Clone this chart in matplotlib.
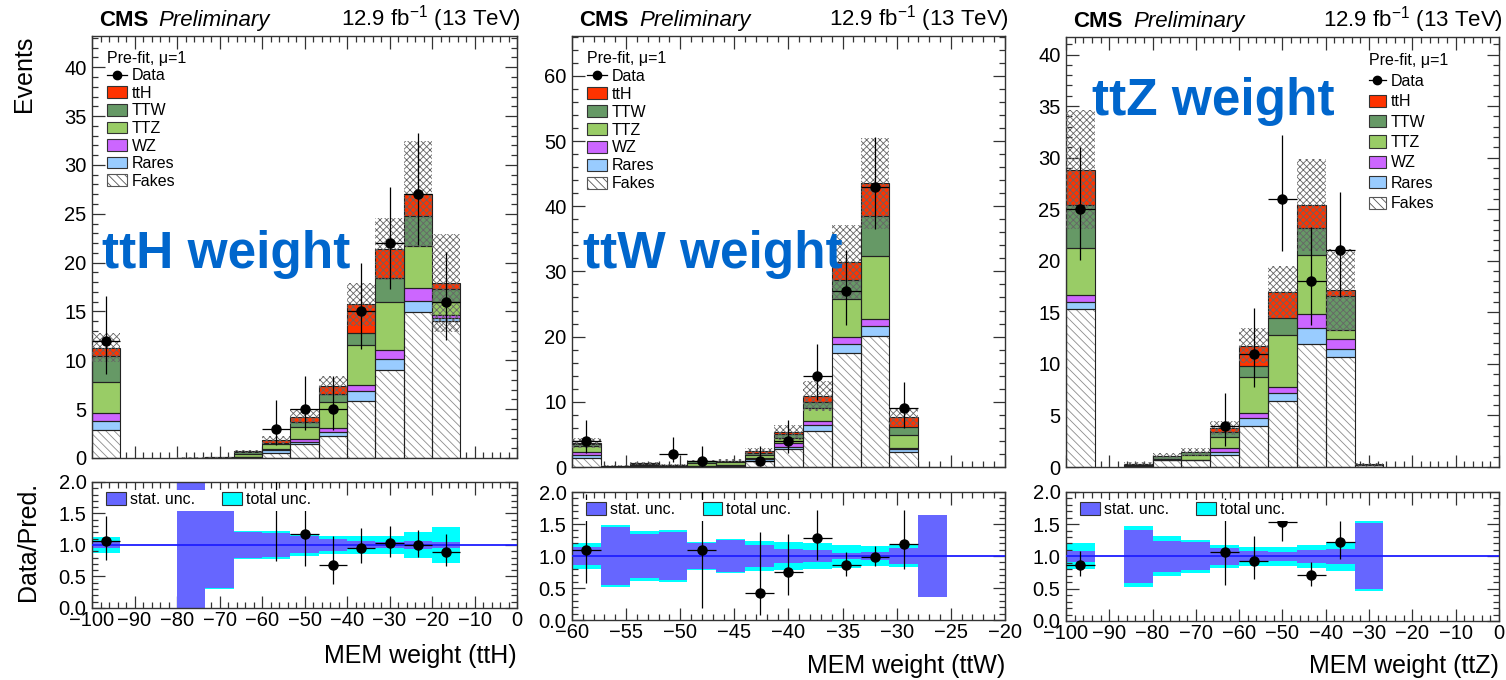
import math
import numpy as np
import matplotlib
matplotlib.use("Agg")
import matplotlib.pyplot as plt
from matplotlib.patches import Patch, Rectangle
from matplotlib.lines import Line2D
from matplotlib.ticker import MultipleLocator, FormatStrFormatter

plt.rcParams['font.family'] = ['Liberation Sans', 'DejaVu Sans']
plt.rcParams['mathtext.fontset'] = 'custom'
plt.rcParams['mathtext.rm'] = 'Liberation Sans'
plt.rcParams['mathtext.it'] = 'Liberation Sans:italic'
plt.rcParams['hatch.linewidth'] = 0.6

# ---- ttH weight (15 bins, -100..0) ----
ttHw_range = (-100, 0)
ttHw_data = [12, 0, 0, 0, 0, 0, 3, 5, 5, 15, 22, 27, 16, 0, 0]
ttHw_fakes = [2.9, 0, 0, 0.01, 0.02, 0.05, 0.55, 1.43, 2.28, 5.86, 9.04, 14.93, 13.98, 0, 0]
ttHw_rares = [0.85, 0, 0, 0, 0, 0.03, 0.27, 0.25, 0.35, 1.03, 1.12, 1.16, 0.34, 0, 0]
ttHw_wz = [0.85, 0, 0, 0, 0, 0.02, 0.10, 0.25, 0.42, 0.54, 0.85, 1.30, 0.34, 0, 0]
ttHw_ttz = [3.2, 0, 0, 0.02, 0.03, 0.35, 0.48, 1.25, 2.65, 4.09, 4.95, 4.33, 1.26, 0, 0]
ttHw_ttw = [2.6, 0, 0, 0, 0.01, 0.20, 0.17, 0.50, 0.80, 1.27, 2.45, 3.00, 1.37, 0, 0]
ttHw_tth = [0.9, 0, 0, 0, 0, 0.05, 0.27, 0.55, 0.88, 2.96, 2.97, 2.28, 0.61, 0, 0]
ttHw_stat = [0.05, 0, 0, 1.3, 0.69, 0.20, 0.185, 0.135, 0.09, 0.07, 0.045, 0.06, 0.05, 0, 0]
ttHw_tot = [0.13, 0, 0, 1.25, 0.70, 0.225, 0.22, 0.18, 0.14, 0.14, 0.15, 0.20, 0.28, 0, 0]

# ---- ttW weight (15 bins, -60..-20) ----
ttWw_range = (-60, -20)
ttWw_data = [4, 0, 0, 2, 1, 0, 1, 4, 14, 27, 43, 9, 0, 0, 0]
ttWw_fakes = [1.45, 0.05, 0.20, 0.10, 0.10, 0.20, 0.92, 2.76, 5.52, 17.43, 20.1, 2.30, 0.02, 0, 0]
ttWw_rares = [0.40, 0.02, 0.05, 0.05, 0.05, 0.05, 0.26, 0.36, 0.92, 1.38, 1.50, 0.40, 0, 0, 0]
ttWw_wz = [0.50, 0.01, 0.05, 0.02, 0.05, 0.05, 0.25, 0.51, 0.66, 1.08, 1.05, 0.15, 0, 0, 0]
ttWw_ttz = [0.80, 0.08, 0.15, 0.10, 0.45, 0.45, 0.41, 0.87, 1.90, 5.88, 9.70, 2.05, 0, 0, 0]
ttWw_ttw = [0.35, 0.04, 0.12, 0.06, 0.20, 0.15, 0.26, 0.50, 1.00, 2.91, 6.14, 1.30, 0, 0, 0]
ttWw_tth = [0.15, 0, 0.03, 0.02, 0.06, 0.10, 0.30, 0.30, 0.94, 2.81, 5.00, 1.40, 0, 0, 0]
ttWw_stat = [0.135, 0.46, 0.35, 0.37, 0.20, 0.25, 0.165, 0.115, 0.10, 0.05, 0.06, 0.13, 0.635, 0, 0]
ttWw_tot = [0.21, 0.485, 0.39, 0.40, 0.22, 0.27, 0.23, 0.22, 0.21, 0.18, 0.16, 0.17, 0.60, 0, 0]

# ---- ttZ weight (15 bins, -100..0) ----
ttZw_range = (-100, 0)
ttZw_data = [25, 0, 0, 0, 0, 4, 11, 26, 18, 21, 0, 0, 0, 0, 0]
ttZw_fakes = [15.3, 0, 0.10, 0.65, 0.65, 1.17, 3.98, 6.41, 11.91, 10.71, 0.15, 0, 0, 0, 0]
ttZw_rares = [0.75, 0, 0.03, 0.02, 0.03, 0.32, 0.74, 0.74, 1.55, 0.71, 0.02, 0, 0, 0, 0]
ttZw_wz = [0.65, 0, 0.02, 0.02, 0.02, 0.39, 0.55, 0.65, 1.39, 0.97, 0.01, 0, 0, 0, 0]
ttZw_ttz = [4.53, 0, 0.10, 0.05, 0.50, 1.07, 3.50, 5.02, 5.73, 0.91, 0.04, 0, 0, 0, 0]
ttZw_ttw = [4.21, 0, 0.05, 0.33, 0.25, 0.42, 1.03, 1.61, 2.59, 3.24, 0.03, 0, 0, 0, 0]
ttZw_tth = [3.39, 0, 0, 0, 0, 0.38, 1.98, 2.53, 2.27, 0.64, 0, 0, 0, 0, 0]
ttZw_stat = [0.08, 0, 0.41, 0.245, 0.215, 0.13, 0.085, 0.075, 0.095, 0.12, 0.51, 0, 0, 0, 0]
ttZw_tot = [0.20, 0, 0.47, 0.31, 0.25, 0.18, 0.145, 0.15, 0.175, 0.23, 0.54, 0, 0, 0, 0]

proc_labels = ['ttH', 'TTW', 'TTZ', 'WZ', 'Rares', 'Fakes']
proc_colors = ['#ff3300', '#669966', '#99cc66', '#cc66ff', '#99ccff', 'white']

HATCH_FAKES = '\\\\\\\\'
EDGE = '#222222'


def pois_cdf(n, mu):
    return sum(math.exp(k * math.log(mu) - mu - math.lgamma(k + 1)) for k in range(n + 1))


def garwood(n, a=0.158655):
    lo_, hi_ = float(n), n + 10.0 * math.sqrt(n + 1) + 10
    for _ in range(60):
        mid = 0.5 * (lo_ + hi_)
        if pois_cdf(n, mid) > a:
            lo_ = mid
        else:
            hi_ = mid
    up = 0.5 * (lo_ + hi_)
    if n == 0:
        return 0.0, up
    lo_, hi_ = 1e-9, float(n)
    for _ in range(60):
        mid = 0.5 * (lo_ + hi_)
        if 1 - pois_cdf(n - 1, mid) < a:
            lo_ = mid
        else:
            hi_ = mid
    return 0.5 * (lo_ + hi_), up


def draw_panel(ax, axr, xr, data, comps, stat, tot, ymax, xmaj, xmin, ymaj, ymin):
    data = np.asarray(data, float)
    n = len(data)
    edges = np.linspace(xr[0], xr[1], n + 1)
    left = edges[:-1]
    w = edges[1] - edges[0]
    cen = left + w / 2

    # stack: fakes, rares, wz, ttz, ttw, tth (bottom -> top)
    bottom = np.zeros(n)
    for vals, col in zip(comps, proc_colors[::-1]):
        vals = np.asarray(vals, float)
        m = vals > 0
        if col == 'white':
            ax.bar(left[m], vals[m], w, bottom=bottom[m], align='edge', facecolor='white',
                   edgecolor='#8c8c8c', hatch=HATCH_FAKES, linewidth=0, zorder=2)
        else:
            ax.bar(left[m], vals[m], w, bottom=bottom[m], align='edge', facecolor=col,
                   linewidth=0, zorder=2)
        ax.bar(left[m], vals[m], w, bottom=bottom[m], align='edge', fill=False,
               edgecolor=EDGE, linewidth=0.8, zorder=2.5)
        bottom += vals
    pred = bottom

    tot = np.asarray(tot, float)
    stat = np.asarray(stat, float)
    m = pred > 0
    dn = pred * (1 - tot)
    up = pred * (1 + tot)
    ax.bar(left[m], (up - dn)[m], w, bottom=dn[m], align='edge', fill=False,
           hatch='xxxxx', edgecolor='#666666', linewidth=0, zorder=3)

    # data points
    md = data > 0
    gw = np.array([garwood(int(v)) for v in data[md]])
    ax.errorbar(cen[md], data[md], yerr=[data[md] - gw[:, 0], gw[:, 1] - data[md]],
                xerr=w / 2, fmt='o', color='black', ms=6.5, elinewidth=0.9,
                capsize=0, zorder=5)

    ax.set_xlim(*xr)
    ax.set_ylim(0, ymax)
    ax.xaxis.set_major_locator(MultipleLocator(xmaj))
    ax.xaxis.set_minor_locator(MultipleLocator(xmin))
    ax.yaxis.set_major_locator(MultipleLocator(ymaj))
    ax.yaxis.set_minor_locator(MultipleLocator(ymin))
    ax.tick_params(axis='x', labelbottom=False)

    # ratio panel
    mb = pred > 0
    axr.bar(left[mb], 2 * tot[mb], w, bottom=1 - tot[mb], align='edge',
            color='#00ffff', linewidth=0, zorder=1)
    axr.bar(left[mb], 2 * stat[mb], w, bottom=1 - stat[mb], align='edge',
            color='#6666ff', linewidth=0, zorder=2)
    axr.axhline(1.0, color='#1e1eff', lw=1.3, zorder=3)
    mr = md & (pred > 0)
    gw = np.array([garwood(int(v)) for v in data[mr]])
    r = data[mr] / pred[mr]
    axr.errorbar(cen[mr], r, yerr=[r - gw[:, 0] / pred[mr], gw[:, 1] / pred[mr] - r],
                 xerr=w / 2, fmt='o', color='black', ms=6.5, elinewidth=0.9,
                 capsize=0, zorder=4)
    axr.set_xlim(*xr)
    axr.set_ylim(0, 2)
    axr.xaxis.set_major_locator(MultipleLocator(xmaj))
    axr.xaxis.set_minor_locator(MultipleLocator(xmin))
    axr.yaxis.set_major_locator(MultipleLocator(0.5))
    axr.yaxis.set_minor_locator(MultipleLocator(0.1))
    axr.yaxis.set_major_formatter(FormatStrFormatter('%.1f'))

    # white legend box in ratio panel
    axr.add_patch(Rectangle((0.02, 0.772), 0.50, 0.163, transform=axr.transAxes,
                            facecolor='white', edgecolor='none', zorder=6))
    rh = [Patch(facecolor='#6666ff', edgecolor='#333333', lw=0.8),
          Patch(facecolor='#00ffff', edgecolor='#333333', lw=0.8)]
    lg = axr.legend(rh, ['stat. unc.', 'total unc.'], ncol=2, loc='center left',
                    bbox_to_anchor=(0.033, 0.862), frameon=False, fontsize=11.5,
                    handlelength=1.25, handleheight=0.9, handletextpad=0.25,
                    columnspacing=1.7, borderpad=0, borderaxespad=0)
    lg.set_zorder(7)

    for a in (ax, axr):
        a.tick_params(which='both', direction='in', top=True, right=True,
                      labelsize=14.5, color='#333333')
        a.tick_params(which='major', length=9, width=0.9)
        a.tick_params(which='minor', length=4.5, width=0.9)
        for s in a.spines.values():
            s.set_linewidth(1.0)
            s.set_color('#333333')
    ax.tick_params(axis='y', pad=4)
    axr.tick_params(axis='x', pad=2)
    axr.tick_params(axis='y', pad=4)


def main_legend(ax, anchor, spacing, hl, hh):
    handles = [Line2D([], [], color='black', marker='o', ms=6, lw=0.9)]
    for lab, col in zip(proc_labels, proc_colors):
        if col == 'white':
            handles.append(Patch(facecolor='white', edgecolor='#555555', hatch=HATCH_FAKES, lw=0.8))
        else:
            handles.append(Patch(facecolor=col, edgecolor='#333333', lw=0.8))
    lg = ax.legend(handles, ['Data'] + proc_labels, loc='upper left', bbox_to_anchor=anchor,
                   frameon=False, fontsize=11.5, title='Pre-fit, \u03bc=1',
                   title_fontsize=11.5, alignment='left', handlelength=hl,
                   handleheight=hh, handletextpad=0.3, labelspacing=spacing,
                   borderpad=0, borderaxespad=0)
    lg.set_zorder(8)


def header(ax):
    ax.text(0.016, 1.024, 'CMS', transform=ax.transAxes, fontsize=16, fontweight='bold',
            va='baseline', ha='left')
    ax.text(0.155, 1.024, 'Preliminary', transform=ax.transAxes, fontsize=16,
            style='italic', va='baseline', ha='left')
    ax.text(1.01, 1.024, '12.9 fb$^{-1}$ (13 TeV)', transform=ax.transAxes, fontsize=16,
            va='baseline', ha='right')


fig = plt.figure(figsize=(15.06, 6.8), dpi=100)

ax1 = fig.add_axes([0.0611, 0.3265, 0.2822, 0.6206])
ax1r = fig.add_axes([0.0611, 0.1059, 0.2822, 0.1853])
ax2 = fig.add_axes([0.3798, 0.3132, 0.2875, 0.6338])
ax2r = fig.add_axes([0.3798, 0.0882, 0.2875, 0.1882])
ax3 = fig.add_axes([0.7078, 0.3132, 0.2875, 0.6324])
ax3r = fig.add_axes([0.7078, 0.0868, 0.2875, 0.1900])

draw_panel(ax1, ax1r, ttHw_range, ttHw_data,
           [ttHw_fakes, ttHw_rares, ttHw_wz, ttHw_ttz, ttHw_ttw, ttHw_tth],
           ttHw_stat, ttHw_tot, 43.2, 10, 2, 5, 1)
draw_panel(ax2, ax2r, ttWw_range, ttWw_data,
           [ttWw_fakes, ttWw_rares, ttWw_wz, ttWw_ttz, ttWw_ttw, ttWw_tth],
           ttWw_stat, ttWw_tot, 66.1, 5, 1, 10, 2)
draw_panel(ax3, ax3r, ttZw_range, ttZw_data,
           [ttZw_fakes, ttZw_rares, ttZw_wz, ttZw_ttz, ttZw_ttw, ttZw_tth],
           ttZw_stat, ttZw_tot, 41.7, 10, 2, 5, 1)

main_legend(ax1, (0.035, 0.965), 0.16, 1.25, 0.75)
main_legend(ax2, (0.035, 0.965), 0.18, 1.25, 0.75)
main_legend(ax3, (0.70, 0.962), 0.34, 1.05, 0.8)

for a in (ax1, ax2, ax3):
    header(a)

big = dict(fontsize=37, fontweight='bold', color='#0066cc', va='baseline', ha='left', zorder=9)
ax1.text(0.0235, 0.45, 'ttH weight', transform=ax1.transAxes, **big)
ax2.text(0.025, 0.462, 'ttW weight', transform=ax2.transAxes, **big)
ax3.text(0.06, 0.819, 'ttZ weight', transform=ax3.transAxes, **big)

ax1.text(-0.16, 1.0, 'Events', transform=ax1.transAxes, rotation=90, fontsize=18,
         ha='center', va='top')
ax1r.text(-0.15, 1.0, 'Data/Pred.', transform=ax1r.transAxes, rotation=90, fontsize=18,
          ha='center', va='top')

ax1r.text(1.0, -0.437, 'MEM weight (ttH)', transform=ax1r.transAxes, fontsize=18,
          ha='right', va='baseline')
ax2r.text(1.0, -0.414, 'MEM weight (ttW)', transform=ax2r.transAxes, fontsize=18,
          ha='right', va='baseline')
ax3r.text(1.0, -0.403, 'MEM weight (ttZ)', transform=ax3r.transAxes, fontsize=18,
          ha='right', va='baseline')

fig.savefig('out.png', dpi=100)
